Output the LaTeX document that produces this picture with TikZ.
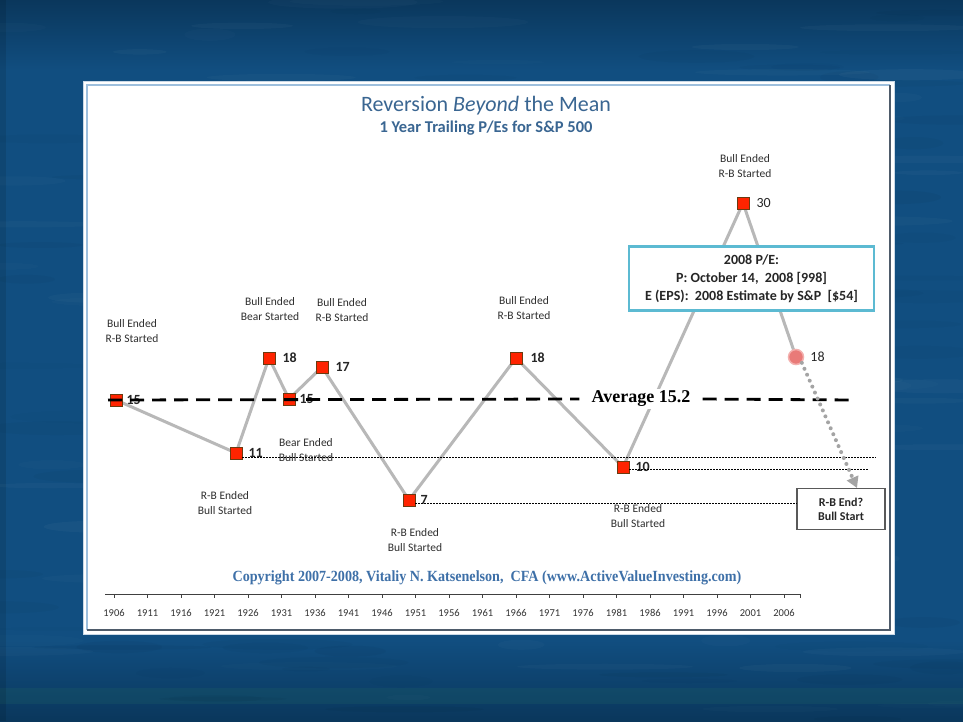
\documentclass[tikz,border=0pt]{standalone}
\usepackage{fontspec}
\setmainfont{Carlito}
\newfontfamily\timesf{Liberation Serif}
\usetikzlibrary{arrows.meta}
\definecolor{bgblue}{HTML}{114E80}
\definecolor{bgdark}{HTML}{0A375C}
\definecolor{bggreen}{HTML}{1A5A66}
\definecolor{titleblue}{HTML}{3A6692}
\definecolor{copyblue}{HTML}{3E70A8}
\definecolor{mred}{HTML}{FF2400}
\definecolor{mborder}{HTML}{6B3A10}
\definecolor{lgray}{HTML}{B8B8B8}
\definecolor{agray}{HTML}{A4A4A4}
\definecolor{callblue}{HTML}{5CBAD2}
\definecolor{lbl}{HTML}{2E2E2E}
\definecolor{pink}{HTML}{E97A78}
\definecolor{pinkedge}{HTML}{F3B0AE}
\definecolor{panelout}{HTML}{C9D8E6}
\definecolor{panelin}{HTML}{9DBFDD}
\definecolor{paneldark}{HTML}{4E5B6A}
\pgfdeclarelayer{bg}
\pgfdeclarelayer{lines}
\pgfdeclarelayer{top}
\pgfsetlayers{bg,lines,main,top}
\tikzset{
  mk/.style={rectangle, minimum size=12pt, inner sep=0pt, fill=mred, draw=mborder, line width=0.8pt},
  val/.style={font=\fontsize{14}{16}\selectfont\bfseries, text=black!85, inner sep=0pt, anchor=west},
  valr/.style={font=\fontsize{14}{16}\selectfont, text=black!85, inner sep=0pt, anchor=west},
  evt/.style={font=\fontsize{11.5}{15}\selectfont, text=lbl, align=center, inner sep=0pt},
  grayline/.style={draw=lgray, line width=3pt, line join=round},
  avgline/.style={draw=black, line width=2.8pt, dash pattern=on 14pt off 8pt},
  dotline/.style={draw=black, line width=0.6pt, dash pattern=on 2pt off 1pt},
  yr/.style={font=\fontsize{10.5}{12}\selectfont, text=black!80, inner sep=0pt},
}
\begin{document}
\begin{tikzpicture}[x=1pt,y=-1pt]
\useasboundingbox (0,0) rectangle (963,721);
\begin{pgfonlayer}{bg}
  % background
  \fill[bgblue] (0,0) rectangle (963,721);
  \shade[top color=bgdark, bottom color=bgblue] (0,0) rectangle (963,70);
  \shade[top color=bgblue, bottom color=bgdark] (0,640) rectangle (963,721);
  \fill[bggreen, opacity=0.35] (0,688) rectangle (963,704);
  \fill[black, opacity=0.10] (0,0) rectangle (6,721);
  \pgfmathsetseed{4711}
  \foreach \k in {1,...,220} {
    \pgfmathsetmacro{\px}{rnd*963}
    \pgfmathsetmacro{\py}{rnd*721}
    \pgfmathsetmacro{\rx}{20+rnd*70}
    \pgfmathsetmacro{\ry}{2+rnd*5}
    \pgfmathsetmacro{\op}{0.01+rnd*0.02}
    \ifodd\k
      \fill[white, opacity=\op] (\px,\py) ellipse [x radius=\rx, y radius=\ry];
    \else
      \fill[black, opacity=\op] (\px,\py) ellipse [x radius=\rx, y radius=\ry];
    \fi
  }
  % panel
  \fill[white] (83,81) rectangle (894,634);
  \draw[panelout, line width=1pt] (83.5,81.5) rectangle (894,634);
  \draw[panelin, line width=1.2pt] (87,630) -- (87,85) -- (890,85);
  \draw[paneldark, line width=1.4pt] (890,85) -- (890,630) -- (87,630);
\end{pgfonlayer}

% titles
\node[font=\fontsize{22}{24}\selectfont, text=titleblue] (title) at (486,106) {Reversion \emph{Beyond} the Mean};
\node[font=\fontsize{16.5}{18}\selectfont\bfseries, text=titleblue] (sub) at (486,128) {1 Year Trailing P/Es for S\&P 500};

% markers
\node[mk] (p1) at (116,400) {};
\node[mk] (p2) at (236,453) {};
\node[mk] (p3) at (269,358) {};
\node[mk] (p4) at (289,399) {};
\node[mk] (p5) at (322,367) {};
\node[mk] (p6) at (409,500) {};
\node[mk] (p7) at (516,358) {};
\node[mk] (p8) at (623,467) {};
\node[mk] (p9) at (743,203) {};
\node[circle, minimum size=15pt, inner sep=0pt, fill=pink, draw=pinkedge, line width=1.5pt] (p10) at (796,357) {};

% values
\node[val] (v1) at ([xshift=4pt]p1.east) {15};
\node[val] (v2) at ([xshift=6pt]p2.east) {11};
\node[val] (v3) at ([xshift=7pt]p3.east) {18};
\node[val] (v4) at ([xshift=4pt]p4.east) {15};
\node[val] (v5) at ([xshift=7pt]p5.east) {17};
\node[val] (v6) at ([xshift=5pt]p6.east) {7};
\node[val] (v7) at ([xshift=8pt]p7.east) {18};
\node[val] (v8) at ([xshift=6pt]p8.east) {10};
\node[valr] (v9) at ([xshift=7pt]p9.east) {30};
\node[valr] (v10) at ([xshift=6pt]p10.east) {18};

% event labels
\node[evt] (e1) at (132,331) {Bull Ended\\R-B Started};
\node[evt] (e2) at (270,309) {Bull Ended\\Bear Started};
\node[evt] (e3) at (342,310) {Bull Ended\\R-B Started};
\node[evt] (e4) at (306,450) {Bear Ended\\Bull Started};
\node[evt] (e5) at (225,503) {R-B Ended\\Bull Started};
\node[evt] (e6) at (415,540) {R-B Ended\\Bull Started};
\node[evt] (e7) at (524,308) {Bull Ended\\R-B Started};
\node[evt] (e8) at (638,516) {R-B Ended\\Bull Started};
\node[evt] (e9) at (745,166) {Bull Ended\\R-B Started};

% average label
\node[font=\fontsize{18}{20}\selectfont\timesf\bfseries, fill=white, inner xsep=12pt, inner ysep=2pt] (avg) at (641,399) {Average 15.2};

% callout
\node[draw=callblue, line width=2.4pt, fill=white, minimum width=245pt, minimum height=64pt,
      font=\fontsize{14}{18}\selectfont\bfseries, text=black!85, align=center] (call) at (751.5,278.5)
  {2008 P/E:\\P: October 14,\ \ 2008 [998]\\E (EPS):\ \ 2008 Estimate by S\&P\ \ [\$54]};

% end box
\node[draw=black!65, line width=1.2pt, fill=white, minimum width=88pt, minimum height=41pt,
      font=\fontsize{12}{14}\selectfont\bfseries, text=black!85, align=center] (endbox) at (841,509)
  {R-B End?\\Bull Start};

% copyright
\node[text=copyblue, font=\fontsize{15.5}{17}\selectfont\timesf\bfseries] (copy) at (487,578)
  {\scalebox{0.91}[1]{Copyright 2007-2008, Vitaliy N. Katsenelson,\ \ CFA (www.ActiveValueInvesting.com)}};

% axis
\coordinate (axL) at (105,594);
\coordinate (axR) at (800,594);
\draw[black!75, line width=0.8pt] (axL) -- (axR);
\foreach \i [evaluate=\i as \yy using int(1906+5*\i)] in {0,...,20} {
  \draw[black!75, line width=0.8pt] (114+33.5*\i,594) -- ++(0,4);
  \node[yr] (y\i) at (114+33.5*\i,613) {\yy};
}
\draw[black!75, line width=0.8pt] (axR) -- ++(0,4);

% connectors
\begin{pgfonlayer}{lines}
  \draw[grayline] (p1.center) -- (p2.center) -- (p3.center) -- (p4.center) -- (p5.center)
    -- (p6.center) -- (p7.center) -- (p8.center) -- (p9.center) -- (p10.center);
\end{pgfonlayer}

\coordinate (aL) at (108,400);
\coordinate (aR) at (855,400);
\coordinate (d1) at (876,457);
\coordinate (d2) at (868,469);
\coordinate (d3) at (797,503);
\coordinate (tip) at (857,488);
\begin{pgfonlayer}{top}
  \draw[avgline] (aL) -- (avg.west);
  \draw[avgline] (avg.east) -- (aR);
  \draw[dotline] (p2.east |- d1) -- (d1);
  \draw[dotline] (p8.east |- d2) -- (d2);
  \draw[dotline] (p6.east |- d3) -- (d3);
  \draw[agray, line width=4pt, line cap=round, dash pattern=on 0pt off 6.5pt,
        -{Triangle[length=11pt, width=12pt, fill=agray]}] (p10.south east) -- (tip);
\end{pgfonlayer}
\end{tikzpicture}
\end{document}
